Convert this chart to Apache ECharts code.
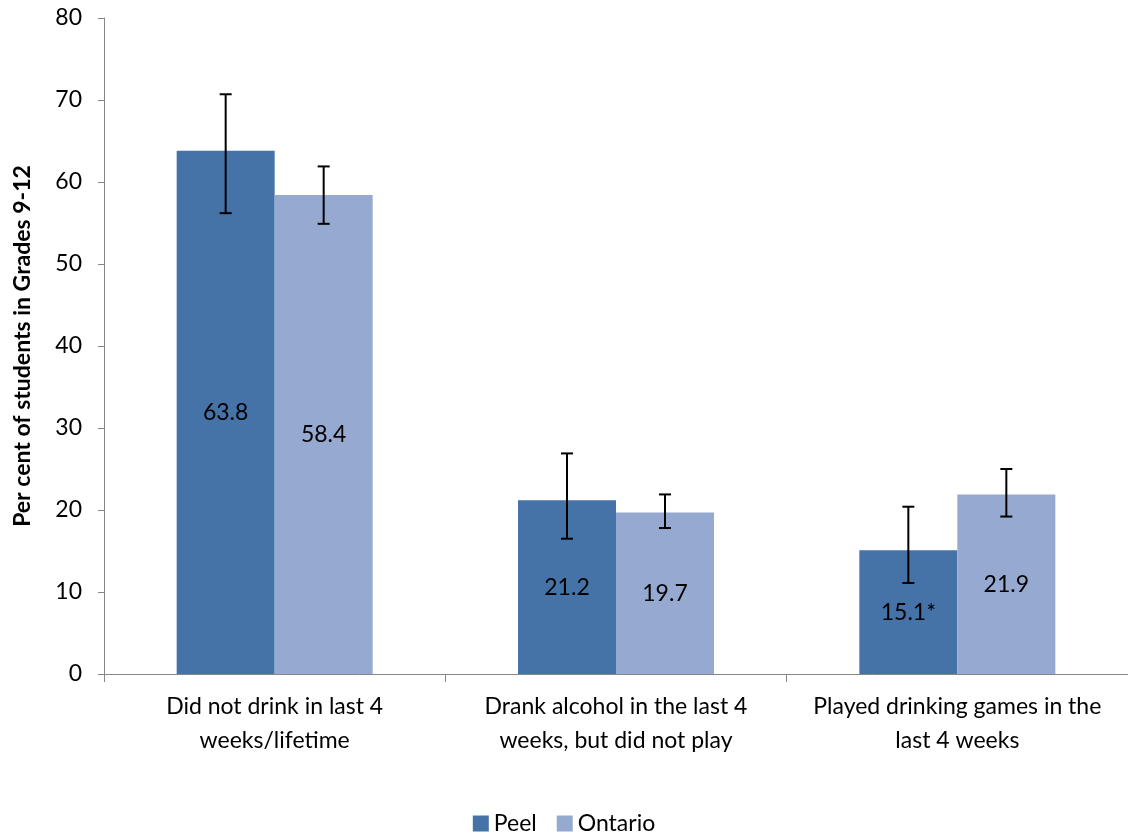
<!DOCTYPE html>
<html>
<head>
<meta charset="utf-8">
<script src="https://cdn.jsdelivr.net/npm/echarts@6/dist/echarts.min.js"></script>
<style>
html,body{margin:0;padding:0;background:#fff;}
#chart{width:1128px;height:833px;}
</style>
</head>
<body>
<div id="chart"></div>
<script>
const categories = ['Did not drink in last 4\nweeks/lifetime', 'Drank alcohol in the last 4\nweeks, but did not play', 'Played drinking games in the\nlast 4 weeks'];
const seriesNames = ['Peel', 'Ontario'];
const peelValues = [63.8, 21.2, 15.1];
const ontarioValues = [58.4, 19.7, 21.9];
const peelLabels = ['63.8', '21.2', '15.1*'];
const ontarioLabels = ['58.4', '19.7', '21.9'];
const peelLow = [56.2, 16.5, 11.1];
const peelHigh = [70.7, 26.9, 20.4];
const ontarioLow = [54.9, 17.8, 19.2];
const ontarioHigh = [61.9, 21.9, 25.0];
const yTicks = { min: 0, max: 80, interval: 10 };

const FONT = 'Lato, "Open Sans", sans-serif';
const FS = 23;
const BAR_W = 98;

function errorSeries(low, high, offset) {
  return {
    type: 'custom',
    silent: true,
    z: 10,
    data: low.map((l, i) => [i, l, high[i]]),
    renderItem: function (params, api) {
      const i = api.value(0);
      const lo = api.coord([i, api.value(1)]);
      const hi = api.coord([i, api.value(2)]);
      const x = lo[0] + offset;
      const cap = 6;
      const style = { stroke: '#000', lineWidth: 2 };
      return {
        type: 'group',
        children: [
          { type: 'line', shape: { x1: x, y1: lo[1], x2: x, y2: hi[1] }, style: style },
          { type: 'line', shape: { x1: x - cap, y1: lo[1], x2: x + cap, y2: lo[1] }, style: style },
          { type: 'line', shape: { x1: x - cap, y1: hi[1], x2: x + cap, y2: hi[1] }, style: style }
        ]
      };
    }
  };
}

const chart = echarts.init(document.getElementById('chart'));
chart.setOption({
  animation: false,
  textStyle: { fontFamily: FONT },
  grid: { left: 104, right: -3, top: 18, bottom: 159, containLabel: false },
  legend: {
    data: seriesNames,
    top: 807,
    left: 'center',
    itemWidth: 16,
    itemHeight: 16,
    itemGap: 20,
    icon: 'rect',
    textStyle: { fontSize: FS, color: '#000', fontFamily: FONT }
  },
  xAxis: {
    type: 'category',
    data: categories,
    axisLine: { lineStyle: { color: '#868686', width: 1 } },
    axisTick: { show: true, alignWithLabel: false, length: 8, lineStyle: { color: '#868686' } },
    axisLabel: { interval: 0, hideOverlap: false, fontSize: FS, color: '#000', lineHeight: 34, margin: 16, fontFamily: FONT }
  },
  yAxis: {
    type: 'value',
    min: yTicks.min,
    max: yTicks.max,
    interval: yTicks.interval,
    name: 'Per cent of students in Grades 9-12',
    nameLocation: 'middle',
    nameGap: 70,
    nameTextStyle: { fontSize: FS, fontWeight: 'bold', color: '#000', fontFamily: FONT },
    axisLine: { show: true, lineStyle: { color: '#868686' } },
    axisTick: { show: true, length: 6, lineStyle: { color: '#868686' } },
    axisLabel: { fontSize: FS, color: '#000', margin: 22, fontFamily: FONT },
    splitLine: { show: false }
  },
  series: [
    {
      name: 'Peel',
      type: 'bar',
      data: peelValues,
      barWidth: BAR_W,
      barGap: '0%',
      itemStyle: { color: '#4572A7' },
      label: {
        show: true, position: 'inside', fontSize: FS, color: '#000', fontFamily: FONT,
        formatter: p => peelLabels[p.dataIndex]
      }
    },
    {
      name: 'Ontario',
      type: 'bar',
      data: ontarioValues,
      barWidth: BAR_W,
      barGap: '0%',
      itemStyle: { color: '#95A9D1' },
      label: {
        show: true, position: 'inside', fontSize: FS, color: '#000', fontFamily: FONT,
        formatter: p => ontarioLabels[p.dataIndex]
      }
    },
    errorSeries(peelLow, peelHigh, -BAR_W / 2),
    errorSeries(ontarioLow, ontarioHigh, BAR_W / 2)
  ]
});
</script>
</body>
</html>
